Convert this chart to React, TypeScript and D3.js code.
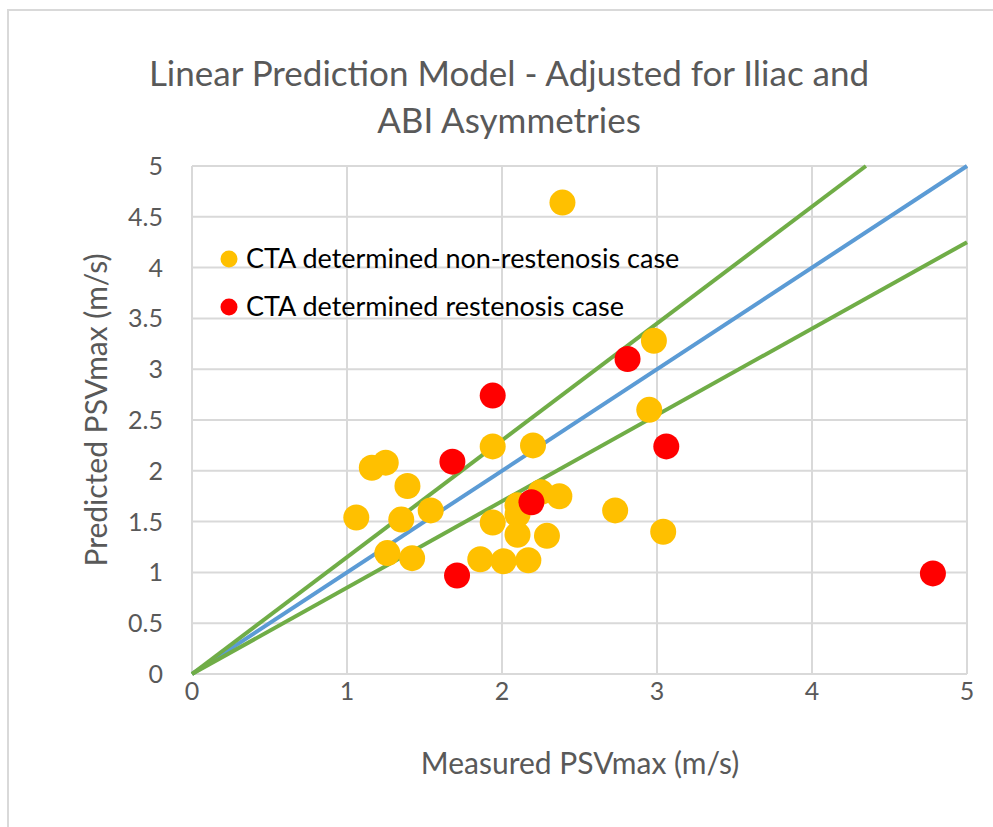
import React from "react";
import * as d3 from "d3";

const nonRestenosisX = [2.39, 2.98, 2.95, 1.94, 2.2, 1.16, 1.25, 1.39, 1.54, 1.06, 1.35, 2.1, 2.1, 2.25, 2.37, 2.73, 1.94, 2.1, 2.29, 1.26, 1.42, 1.86, 2.01, 2.17, 3.04];
const nonRestenosisY = [4.64, 3.28, 2.6, 2.24, 2.25, 2.03, 2.08, 1.85, 1.61, 1.54, 1.52, 1.66, 1.57, 1.79, 1.75, 1.61, 1.49, 1.37, 1.36, 1.19, 1.14, 1.13, 1.11, 1.12, 1.4];
const restenosisX = [1.68, 1.94, 2.81, 3.06, 2.19, 1.71, 4.78];
const restenosisY = [2.09, 2.74, 3.1, 2.24, 1.69, 0.97, 0.99];
const lineSlopes = [1, 1.15, 0.85];
const lineColors = ["#5b9bd5", "#70ad47", "#70ad47"];
const ticks = [0, 0.5, 1, 1.5, 2, 2.5, 3, 3.5, 4, 4.5, 5];
const xTicks = [0, 1, 2, 3, 4, 5];
const legendLabels = ["CTA determined non-restenosis case", "CTA determined restenosis case"];
const legendColors = ["#ffc000", "#ff0000"];
const titleLines = ["Linear Prediction Model - Adjusted for Iliac and", "ABI Asymmetries"];

const FONT = "Lato, 'Open Sans', sans-serif";

export default function App() {
  const W = 993, H = 827;
  const left = 192, right = 967, top = 166, bottom = 674;
  const x = d3.scaleLinear().domain([0, 5]).range([left, right]);
  const y = d3.scaleLinear().domain([0, 5]).range([bottom, top]);

  const lines = lineSlopes.map((s, i) => {
    const xEnd = Math.min(5, 5 / s);
    return { x1: x(0), y1: y(0), x2: x(xEnd), y2: y(s * xEnd), color: lineColors[i] };
  });

  return (
    <svg width={W} height={H} style={{ position: "absolute", left: 0, top: 0, background: "#fff" }}>
      <rect x={8} y={10} width={W} height={H} fill="#fff" stroke="#d9d9d9" strokeWidth={2} />
      {titleLines.map((t, i) => (
        <text key={i} x={509} y={86 + i * 47} textAnchor="middle" fontFamily={FONT} fontSize={35} fill="#595959">{t}</text>
      ))}
      {ticks.map((t) => (
        <line key={"h" + t} x1={left} x2={right} y1={y(t)} y2={y(t)} stroke="#d9d9d9" strokeWidth={2} />
      ))}
      {xTicks.map((t) => (
        <line key={"v" + t} x1={x(t)} x2={x(t)} y1={top} y2={bottom} stroke="#d9d9d9" strokeWidth={2} />
      ))}
      {ticks.map((t) => (
        <text key={"yl" + t} x={163} y={y(t) + 9} textAnchor="end" fontFamily={FONT} fontSize={25} fill="#595959">{t}</text>
      ))}
      {xTicks.map((t) => (
        <text key={"xl" + t} x={x(t)} y={700} textAnchor="middle" fontFamily={FONT} fontSize={25} fill="#595959">{t}</text>
      ))}
      <text x={580} y={774} textAnchor="middle" fontFamily={FONT} fontSize={30} fill="#595959">Measured PSVmax (m/s)</text>
      <text transform={`translate(107,${(top + bottom) / 2 - 10}) rotate(-90)`} textAnchor="middle" fontFamily={FONT} fontSize={30} fill="#595959">Predicted PSVmax (m/s)</text>
      {lines.map((l, i) => (
        <line key={"l" + i} x1={l.x1} y1={l.y1} x2={l.x2} y2={l.y2} stroke={l.color} strokeWidth={4} />
      ))}
      {nonRestenosisX.map((v, i) => (
        <circle key={"n" + i} cx={x(v)} cy={y(nonRestenosisY[i])} r={13} fill="#ffc000" />
      ))}
      {restenosisX.map((v, i) => (
        <circle key={"r" + i} cx={x(v)} cy={y(restenosisY[i])} r={13} fill="#ff0000" />
      ))}
      {legendLabels.map((lab, i) => (
        <g key={"lg" + i}>
          <circle cx={229} cy={259 + i * 48} r={8.5} fill={legendColors[i]} />
          <text x={246} y={268 + i * 48} fontFamily={FONT} fontSize={27} fill="#000">{lab}</text>
        </g>
      ))}
    </svg>
  );
}
